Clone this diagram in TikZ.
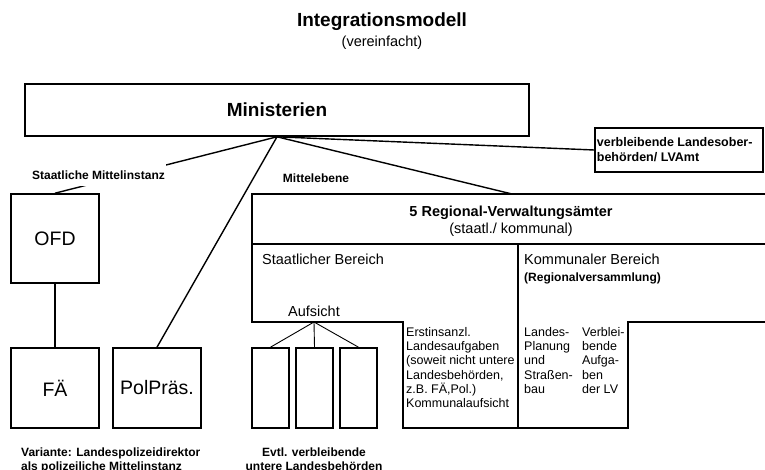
\documentclass[tikz,border=0pt]{standalone}
\usepackage{fontspec}
\setmainfont{Liberation Sans}
\newcommand\myfs[2]{\fontsize{#1}{#2}\selectfont}
\tikzset{
  box/.style={draw, line width=1.6pt, rectangle, inner sep=0pt},
  conn/.style={line width=1.4pt},
  thinconn/.style={line width=0.9pt},
  outline/.style={line width=1.6pt},
  smallbold/.style={font=\bfseries\myfs{12}{14}},
  midtext/.style={font=\myfs{14.5}{17}},
  bigtext/.style={font=\myfs{19.5}{22}},
  celltext/.style={anchor=north west, inner sep=0pt, align=left, font=\myfs{12.5}{14.3}}
}
\begin{document}
\begin{tikzpicture}[x=1pt,y=-1pt]
\useasboundingbox (0,0) rectangle (765,470);

% title
\node[font=\bfseries\myfs{19}{22}] (title) at (382,22) {Integrationsmodell};
\node[midtext] (sub) at (382,43) {(vereinfacht)};

% Ministerien
\node[box, minimum width=504pt, minimum height=52pt, font=\bfseries\myfs{19}{22}] (min) at (277,110) {Ministerien};

% verbleibende Landesoberbehoerden
\node[box, minimum width=168pt, minimum height=44pt] (lvamt) at (679,150) {};
\node[anchor=west, inner sep=0pt, align=left, font=\bfseries\myfs{12.5}{15}] (lvtext) at ([xshift=2.5pt]lvamt.west) {verbleibende Landesober-\\behörden/ LVAmt};

% left column boxes
\node[box, bigtext, minimum width=88pt, minimum height=89pt] (ofd) at (55,238.5) {OFD};
\node[box, bigtext, minimum width=88pt, minimum height=80pt] (fa) at (55,388) {FÄ};
\node[box, bigtext, minimum width=88pt, minimum height=80pt] (pol) at (157,388) {PolPräs.};

% small lower boxes
\node[box, minimum width=37pt, minimum height=80pt] (b1) at (270.5,388) {};
\node[box, minimum width=37pt, minimum height=80pt] (b2) at (314.5,388) {};
\node[box, minimum width=37pt, minimum height=80pt] (b3) at (358.5,388) {};

% Regional-Verwaltungsaemter outline
\draw[outline] (765,194) -- (252,194) -- (252,322) -- (403,322) -- (403,428) -- (628,428) -- (628,322) -- (765,322);
\draw[outline] (252,244) -- (765,244);
\draw[outline] (518,244) -- (518,428);
\coordinate (regtop) at (512,194);
\coordinate (auf) at (314,322);

% connectors
\draw[conn] (min.south) -- (ofd.north);
\draw[conn] (min.south) -- (pol.north);
\draw[conn] (min.south) -- (regtop);
\draw[conn] (min.south) -- (lvamt.west);
\draw[conn] (ofd.south) -- (fa.north);
\draw[thinconn] (auf) -- (b1.north);
\draw[thinconn] (auf) -- (b2.north);
\draw[thinconn] (auf) -- (b3.north);

% labels
\node[smallbold, fill=white, inner xsep=1pt, inner ysep=0pt, minimum height=22pt] (smi) at (98.5,175.5) {Staatliche Mittelinstanz};
\node[smallbold] (mittel) at (316,178) {Mittelebene};

\node[font=\bfseries\myfs{14.5}{17}] (rvhead) at (511,213) {5 Regional-Verwaltungsämter};
\node[midtext] (rvsub) at (511,230) {(staatl./ kommunal)};

\node[midtext, anchor=west, inner sep=0pt] (staat) at (262,259) {Staatlicher Bereich};
\node[midtext, anchor=west, inner sep=0pt] (komm) at (524,259) {Kommunaler Bereich};
\node[smallbold, anchor=west, inner sep=0pt] (regv) at (524,278) {(Regionalversammlung)};

\node[midtext] (aufs) at (314,311) {Aufsicht};

\node[celltext] (erst) at (406,327) {Erstinsanzl.\\Landesaufgaben\\(soweit nicht untere\\Landesbehörden,\\z.B. FÄ,Pol.)\\Kommunalaufsicht};
\node[celltext] (lpl) at (524,327) {Landes-\\Planung\\und\\Straßen-\\bau};
\node[celltext] (verb) at (582,327) {Verblei-\\bende\\Aufga-\\ben\\der LV};

\node[smallbold, anchor=north west, inner sep=0pt, align=left] (var) at (21,447.5) {Variante: Landespolizeidirektor\\als polizeiliche Mittelinstanz};
\node[smallbold, anchor=north, inner sep=0pt, align=center] (evtl) at (314,447.5) {Evtl. verbleibende\\untere Landesbehörden};

\end{tikzpicture}
\end{document}
